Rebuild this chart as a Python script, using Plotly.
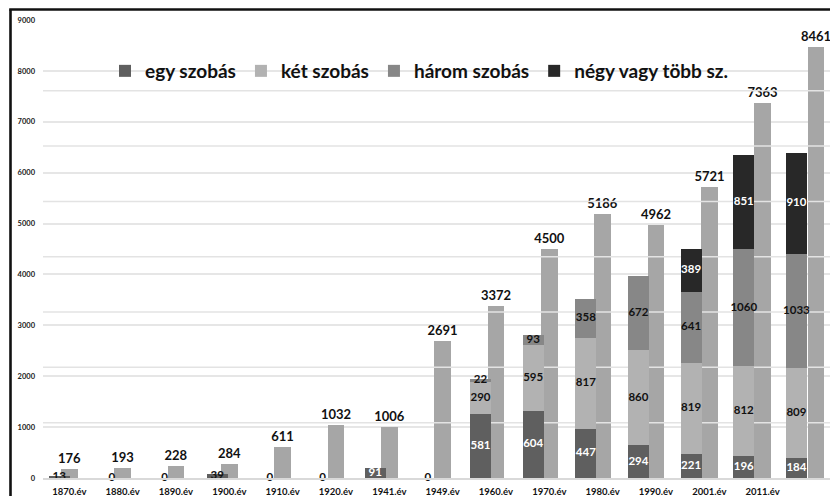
import plotly.graph_objects as go

# ---- data -------------------------------------------------------------
years = ["1870.év", "1880.év", "1890.év", "1900.év", "1910.év", "1920.év",
         "1941.év", "1949.év", "1960.év", "1970.év", "1980.év", "1990.év",
         "2001.év", "2011.év", "2020.év"]
totals = [176, 193, 228, 284, 611, 1032, 1006, 2691, 3372, 4500,
          5186, 4962, 5721, 7363, 8461]
egy_szobas = [13, 0, 0, 39, 0, 0, 91, 0, 581, 604, 447, 294, 221, 196, 184]
ket_szobas = [None] * 8 + [290, 595, 817, 860, 819, 812, 809]
harom_szobas = [None] * 8 + [22, 93, 358, 672, 641, 1060, 1033]
negy_szobas = [None] * 12 + [389, 851, 910]

series_names = ["egy szobás", "két szobás", "három szobás", "négy vagy több sz."]
series_values = [egy_szobas, ket_szobas, harom_szobas, negy_szobas]
series_colors = ["#5f5f5f", "#b2b2b2", "#878787", "#282828"]

# ---- geometry -----------------------------------------------------------
W, H = 830, 496
ML, MR, MT, MB = 43, 0, 20, 18
X_RANGE = [-0.493, 14.264]      # axis of the total bars
X2_RANGE = [-0.3076, 14.637]    # axis of the stacked room-count bars
Y_MAX = 9000
Y2_MAX = 4140
Y2_GRID = [500 * k for k in range(1, 8)]

FONT = "Lato"
idx = list(range(len(years)))


def px_x(p):
    return (p - ML) / (W - ML - MR)


def px_y(p):
    return (H - MB - p) / (H - MT - MB)


fig = go.Figure()

# total bars (primary axes)
fig.add_trace(go.Bar(
    x=idx, y=totals, xaxis="x", yaxis="y", width=0.313,
    marker=dict(color="#a6a6a6", line=dict(width=0)),
    text=[str(v) for v in totals], textposition="outside",
    textfont=dict(family=FONT, size=13, color="#111111", weight="bold"),
    constraintext="none", cliponaxis=False, showlegend=False,
    hoverinfo="x+y",
))

# gridlines of the secondary scale, drawn over the total bars
gx, gy = [], []
for g in Y2_GRID:
    yv = g * Y_MAX / Y2_MAX
    gx += [X_RANGE[0], X_RANGE[1], None]
    gy += [yv, yv, None]
fig.add_trace(go.Scatter(
    x=gx, y=gy, xaxis="x", yaxis="y", mode="lines",
    line=dict(color="#e3e3e3", width=1.5),
    hoverinfo="skip", showlegend=False,
))

# stacked room-count bars (secondary axes)
for name, vals, col in zip(series_names, series_values, series_colors):
    fig.add_trace(go.Bar(
        name=name, x=idx, y=vals, xaxis="x2", yaxis="y2", width=0.4,
        marker=dict(color=col, line=dict(width=0)),
        hovertemplate=name + ": %{y}<extra></extra>",
    ))

# value labels centred on each stacked segment
lx, ly, lt, lc = [], [], [], []
base = [0] * len(idx)
for name, vals in zip(series_names, series_values):
    for i, v in enumerate(vals):
        if v is None:
            continue
        lx.append(i)
        ly.append(base[i] + v / 2)
        lt.append(str(v))
        if name == "egy szobás":
            lc.append("#ffffff" if v >= 50 else "#111111")
        elif name == "négy vagy több sz.":
            lc.append("#ffffff")
        else:
            lc.append("#111111")
        base[i] += v
fig.add_trace(go.Scatter(
    x=lx, y=ly, xaxis="x2", yaxis="y2", mode="text",
    text=lt, textposition="middle center",
    textfont=dict(family=FONT, size=11.5, color=lc, weight="bold"),
    cliponaxis=False, hoverinfo="skip", showlegend=False,
))

# outer frame of the chart
shapes = [
    dict(type="line", xref="paper", yref="paper",
         x0=px_x(10.5), x1=px_x(10.5), y0=px_y(9.5), y1=px_y(H + 5),
         line=dict(color="#111111", width=2.6)),
    dict(type="line", xref="paper", yref="paper",
         x0=px_x(9.2), x1=px_x(W + 5), y0=px_y(9.5), y1=px_y(9.5),
         line=dict(color="#111111", width=2.6)),
]

fig.update_layout(
    width=W, height=H,
    margin=dict(l=ML, r=MR, t=MT, b=MB, pad=0, autoexpand=False),
    paper_bgcolor="white", plot_bgcolor="white",
    barmode="stack", bargap=0,
    font=dict(family=FONT, color="#111111"),
    showlegend=True,
    legend=dict(
        orientation="h", traceorder="normal",
        xref="paper", yref="paper",
        x=px_x(105), xanchor="left", y=px_y(71), yanchor="middle",
        bgcolor="rgba(0,0,0,0)", borderwidth=0,
        font=dict(family=FONT, size=19, color="#111111", weight="bold"),
        itemwidth=30,
    ),
    xaxis=dict(
        type="linear", range=X_RANGE, tickmode="array", tickvals=idx,
        ticktext=years, showgrid=False, zeroline=False,
        showline=True, linecolor="#d9d9d9", linewidth=1.5,
        ticks="", ticklabelstandoff=4,
        tickfont=dict(family=FONT, size=9.5, color="#111111", weight="bold"),
    ),
    yaxis=dict(
        range=[0, Y_MAX], dtick=1000, showgrid=True,
        gridcolor="#e6e6e6", gridwidth=1.5, zeroline=False,
        ticks="", ticklabelstandoff=7,
        tickfont=dict(family=FONT, size=7.5, color="#222222", weight="bold"),
    ),
    xaxis2=dict(type="linear", range=X2_RANGE, overlaying="x", visible=False),
    yaxis2=dict(range=[0, Y2_MAX], overlaying="y", visible=False),
    shapes=shapes,
)

fig.write_html("out.html")
